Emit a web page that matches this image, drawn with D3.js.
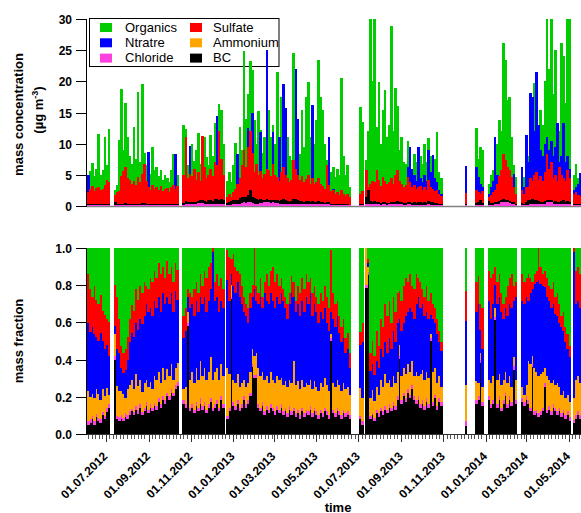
<!DOCTYPE html>
<html><head><meta charset="utf-8">
<script src="https://cdn.jsdelivr.net/npm/d3@7"></script>
<style>
body{margin:0;background:#fff}
svg{display:block}
text{font-family:"Liberation Sans",Arial,Helvetica,sans-serif}
</style>
</head><body>
<svg id="chart" width="581" height="513"></svg>
<script>
// ---------------- DATA ----------------
// 3-day samples starting 2012-06-04 (null = no measurement)
const startDate = "2012-06-04";
const binDays = 3;
const seriesNames = ["Organics", "Ntratre", "Sulfate", "Ammonium", "Chloride", "BC"];
const concTicks = [0, 5, 10, 15, 20, 25, 30];
const fracTicks = [0, 0.2, 0.4, 0.6, 0.8, 1.0];
const dateLabels = ["01.07.2012","01.09.2012","01.11.2012","01.01.2013","01.03.2013","01.05.2013",
  "01.07.2013","01.09.2013","01.11.2013","01.01.2014","01.03.2014","01.05.2014"];

// mass concentration (ug m-3)
const concOrg = [
4.2,5.6,6.9,4.8,6.0,11.5,4.9,5.8,11.0,6.5,12.4,
null,null,
2.6,3.4,10.6,18.7,9.0,16.5,11.0,8.0,6.8,12.7,7.5,18.3,7.0,19.6,8.5,6.5,7.9,5.2,9.5,5.8,6.3,4.8,5.8,4.2,5.0,4.5,3.8,5.8,8.4,4.6,5.0,
null,null,
13.0,12.4,6.5,8.0,10.0,7.2,9.0,11.7,6.8,9.5,11.1,7.9,6.5,11.4,8.0,13.3,10.5,16.3,15.4,10.0,
null,
4.0,5.5,3.8,6.5,10.1,7.4,12.7,9.0,24.8,14.0,18.0,23.2,21.8,13.8,
10.0,15.3,12.2,8.5,11.0,9.5,15.4,11.1,13.0,10.0,
21.5,7.4,17.5,13.0,10.5,11.0,8.0,7.4,24.6,12.0,
12.7,8.4,15.4,9.5,17.5,19.9,11.0,15.4,10.0,13.8,
23.4,17.5,15.4,10.0,7.4,8.0,5.5,6.3,4.7,6.0,
5.0,20.5,8.0,5.0,6.5,3.0,
null,null,null,null,
15.9,13.5,
null,
7.4,12.0,30.0,20.0,30.0,12.7,19.9,10.0,15.4,18.6,
11.0,13.0,28.8,12.0,18.9,16.0,9.0,11.0,7.0,6.8,
10.5,7.5,5.5,8.4,7.0,6.5,8.0,6.8,10.0,7.0,
10.9,8.0,6.5,7.5,11.9,5.5,4.5,
null,null,null,null,null,null,null,null,null,null,null,
4.7,
null,null,null,null,
12.5,7.5,9.5,9.0,
null,null,
3.6,5.0,5.8,7.0,10.0,13.8,12.0,26.1,23.4,17.0,17.5,11.0,6.5,4.7,
null,null,
5.5,4.7,6.0,
8.0,14.3,12.0,19.7,14.0,12.5,15.4,13.0,20.0,30.0,
22.0,30.0,18.0,25.0,13.0,12.0,26.1,24.0,16.5,30.0,
30.0,
null,
5.0,6.8,4.5,3.6
];
const concNO3 = [
5.0,1.2,0.8,1.0,0.9,1.1,0.7,0.8,1.0,0.6,0.8,
null,null,
0.5,0.6,0.8,1.0,1.2,1.5,1.0,1.4,1.6,1.2,0.9,1.1,1.3,1.6,1.2,1.8,8.7,1.0,1.2,0.9,1.0,0.8,1.1,0.7,0.9,1.0,0.8,1.1,1.3,8.4,1.5,
null,null,
1.0,1.5,2.0,9.6,2.2,1.8,2.5,3.0,2.2,3.5,2.6,2.0,3.2,3.6,4.0,5.0,14.5,4.5,6.0,3.5,
null,
1.2,1.5,1.0,2.0,2.5,8.4,4.0,5.5,7.0,5.0,12.5,9.0,14.9,5.0,
4.5,4.0,11.8,4.0,4.5,25.1,5.0,4.0,11.8,4.5,
4.0,11.1,5.0,19.6,15.8,4.0,3.5,4.0,6.0,21.9,
13.9,4.0,4.5,3.5,4.0,4.5,3.0,16.2,3.0,3.5,
4.0,3.0,2.5,2.5,4.0,11.1,2.0,2.8,1.6,2.0,
1.5,2.2,1.8,1.2,1.2,0.8,
null,null,null,null,
1.0,1.2,
null,
2.6,1.5,2.0,1.8,2.2,1.5,1.4,1.0,1.2,1.3,
1.1,1.5,1.8,2.0,2.4,2.6,3.0,3.5,2.8,3.2,
6.3,9.5,6.0,5.0,4.0,9.5,4.5,3.8,5.0,4.0,
9.0,5.5,8.2,4.5,3.8,2.5,2.0,
null,null,null,null,null,null,null,null,null,null,null,
6.4,
null,null,null,null,
6.3,4.7,3.5,3.0,
null,null,
2.0,3.0,4.0,11.1,5.0,4.5,4.0,5.5,5.0,4.8,4.0,3.5,5.2,2.0,
null,null,
6.3,3.0,11.4,
7.0,18.1,17.5,12.0,21.5,13.0,9.0,8.0,10.0,11.0,
9.0,10.5,8.0,9.5,13.3,7.0,8.0,13.3,7.0,8.0,
6.0,
null,
2.5,3.0,3.6,5.3
];
const concSO4 = [
2.2,2.8,3.2,2.4,2.9,3.0,2.6,2.8,3.4,4.1,3.8,
null,null,
1.8,2.2,2.4,4.8,5.6,6.3,4.5,4.2,3.6,4.0,3.3,4.6,3.8,5.2,6.8,4.0,3.0,2.6,3.4,2.8,3.0,2.5,3.2,2.4,2.7,2.9,2.2,3.0,3.4,2.8,3.2,
null,null,
5.0,11.1,4.5,5.2,4.8,6.0,4.2,5.5,4.0,11.3,6.2,4.5,5.0,6.0,4.8,7.0,6.5,12.0,7.5,5.0,
null,
1.5,2.0,1.4,2.2,2.8,3.5,4.5,6.5,9.0,6.3,9.5,12.0,8.5,5.5,
6.8,5.0,5.6,4.5,5.2,6.0,5.8,4.8,6.8,5.0,
4.6,4.0,5.5,6.2,5.0,4.5,3.8,4.2,7.3,6.0,
5.0,4.2,4.8,3.8,4.4,5.0,3.6,4.5,3.5,3.8,
4.5,3.6,3.2,2.8,6.5,3.4,2.4,2.6,2.0,2.2,
1.8,2.5,2.0,1.6,2.0,1.5,
null,null,null,null,
2.0,2.4,
null,
5.7,3.0,3.5,4.0,3.8,5.8,4.2,3.2,4.7,4.0,
3.5,3.8,4.5,3.6,5.0,5.8,4.0,3.5,3.0,3.3,
4.7,3.8,3.0,3.4,2.8,3.0,3.2,2.6,3.0,2.5,
4.2,3.0,2.8,2.4,2.6,2.0,1.6,
null,null,null,null,null,null,null,null,null,null,null,
2.1,
null,null,null,null,
2.6,2.2,2.0,2.4,
null,null,
1.5,1.8,2.2,2.5,3.5,4.8,5.8,8.4,7.4,6.3,5.8,4.7,3.0,2.0,
null,null,
2.5,2.0,3.0,
3.0,4.5,4.0,5.0,5.5,4.2,4.8,4.0,5.5,8.4,
6.0,7.0,4.5,5.0,4.0,6.3,5.0,4.5,4.0,5.8,
4.5,
null,
2.0,2.3,1.8,1.6
];
const concNH4 = [
1.0,1.2,1.4,1.1,1.3,1.4,1.2,1.3,1.5,1.8,1.7,
null,null,
0.8,1.0,1.1,2.0,2.2,2.5,1.9,1.8,1.6,1.7,1.5,1.9,1.6,2.2,2.6,1.8,1.5,1.2,1.5,1.3,1.3,1.1,1.4,1.0,1.2,1.2,1.0,1.3,1.5,1.2,1.4,
null,null,
2.2,4.2,2.0,2.6,2.1,2.5,2.0,2.4,1.9,4.3,2.6,2.0,2.2,2.5,2.2,3.0,3.0,4.5,3.2,2.3,
null,
1.0,1.3,0.9,1.6,2.0,2.2,2.8,3.5,3.9,3.0,3.6,3.9,3.4,2.6,
3.0,2.8,3.2,2.5,2.8,3.5,3.2,2.6,3.2,3.0,
2.7,2.3,3.0,3.6,3.2,2.6,2.2,2.5,3.5,3.6,
3.0,2.5,2.6,2.2,2.5,2.6,2.0,2.8,2.0,2.2,
2.5,2.1,1.9,1.7,2.6,2.2,1.4,1.5,1.2,1.3,
1.1,1.4,1.2,0.9,1.0,0.8,
null,null,null,null,
1.0,1.1,
null,
3.8,1.6,1.8,2.0,1.9,2.5,2.0,1.6,2.1,1.9,
1.7,1.8,2.1,1.8,2.3,2.6,2.0,1.9,1.7,1.8,
2.5,2.4,1.9,2.0,1.7,2.0,1.9,1.6,1.8,1.5,
2.4,1.8,1.8,1.5,1.5,1.2,1.0,
null,null,null,null,null,null,null,null,null,null,null,
1.3,
null,null,null,null,
1.5,1.3,1.2,1.3,
null,null,
0.9,1.1,1.3,1.6,1.9,2.3,2.5,3.2,3.0,2.8,2.5,2.2,1.7,1.1,
null,null,
1.5,1.2,2.0,
2.2,3.5,3.2,3.0,3.8,3.0,2.8,2.5,3.0,3.6,
3.0,3.3,2.6,2.8,3.0,2.8,2.6,2.8,2.3,2.6,
2.3,
null,
1.2,1.4,1.2,1.1
];
const concBC = [
0.3,0.3,0.4,0.3,0.3,0.4,0.3,0.3,0.4,0.4,0.4,
null,null,
0.6,0.3,0.3,0.4,0.4,0.5,0.4,0.4,0.3,0.4,0.3,0.4,0.4,0.5,0.5,0.4,0.3,0.3,0.3,0.3,0.3,0.3,0.3,0.3,0.3,0.3,0.3,0.3,0.4,0.3,0.4,
null,null,
0.5,0.8,0.6,0.7,0.6,0.6,0.7,0.8,0.9,1.0,0.8,0.7,0.9,1.0,0.8,1.1,1.2,1.0,1.1,0.9,
null,
0.5,0.7,0.8,0.9,1.0,1.0,1.3,1.5,1.5,1.4,1.8,2.5,1.4,1.3,
1.2,1.0,1.1,0.9,1.0,1.1,1.0,0.9,1.0,0.9,
1.0,0.8,1.0,1.1,0.9,0.8,0.7,0.8,1.2,1.1,
0.9,0.8,0.8,0.7,0.8,0.8,0.7,0.8,0.6,0.7,
0.8,0.6,0.6,0.5,0.6,0.6,0.4,0.4,0.4,0.4,
0.3,0.4,0.3,0.3,0.3,0.2,
null,null,null,null,
0.3,0.3,
null,
1.5,2.5,0.8,0.7,0.8,0.7,0.6,0.5,0.6,0.6,
0.5,0.5,0.7,0.6,0.7,0.8,0.6,0.6,0.5,0.5,
0.7,0.6,0.5,0.6,0.5,0.6,0.6,0.5,0.6,0.5,
0.8,0.6,0.6,0.5,0.5,0.4,0.3,
null,null,null,null,null,null,null,null,null,null,null,
0.3,
null,null,null,null,
0.5,0.6,0.9,0.5,
null,null,
0.8,0.5,0.5,0.6,0.7,0.8,0.9,1.1,1.0,0.9,0.8,0.7,0.6,0.4,
null,null,
0.5,0.4,0.6,
1.0,1.0,1.1,1.0,0.9,0.8,0.7,0.6,0.8,1.0,
0.9,1.0,0.7,0.8,0.7,0.6,0.8,1.0,0.7,0.8,
0.7,
null,
0.4,0.4,0.3,0.3
];
const concChl = [
0.2,0.2,0.2,0.2,0.2,0.2,0.2,0.2,0.2,0.2,0.2,
null,null,
0.1,0.1,0.2,0.2,0.2,0.2,0.2,0.2,0.2,0.2,0.2,0.2,0.2,0.2,0.2,0.2,0.2,0.2,0.2,0.2,0.2,0.2,0.2,0.2,0.2,0.2,0.2,0.2,0.2,0.2,0.2,
null,null,
0.2,0.3,0.3,0.3,0.3,0.3,0.4,0.5,0.5,0.5,0.4,0.4,0.4,0.4,0.3,0.4,0.4,0.4,0.4,0.3,
null,
0.2,0.2,0.2,0.3,0.3,0.4,0.4,0.5,0.6,0.5,0.6,0.6,0.5,0.4,
0.4,0.4,0.5,0.5,0.6,0.7,0.6,0.5,0.6,0.5,
0.5,0.4,0.4,0.4,0.3,0.3,0.3,0.3,0.3,0.3,
0.4,0.4,0.4,0.3,0.3,0.3,0.3,0.3,0.3,0.3,
0.3,0.3,0.3,0.3,0.3,0.3,0.2,0.2,0.2,0.2,
0.2,0.2,0.2,0.2,0.2,0.1,
null,null,null,null,
0.2,0.2,
null,
0.3,0.3,0.3,0.3,0.3,0.3,0.3,0.2,0.3,0.3,
0.2,0.3,0.3,0.3,0.3,0.3,0.3,0.3,0.2,0.2,
0.3,0.3,0.2,0.2,0.2,0.2,0.2,0.2,0.2,0.2,
0.3,0.2,0.2,0.2,0.2,0.2,0.1,
null,null,null,null,null,null,null,null,null,null,null,
0.2,
null,null,null,null,
0.2,0.2,0.2,0.2,
null,null,
0.2,0.2,0.2,0.3,0.3,0.4,0.6,0.7,0.7,0.6,0.5,0.4,0.3,0.2,
null,null,
0.2,0.2,0.2,
0.2,0.3,0.3,0.3,0.3,0.3,0.3,0.3,0.4,0.6,
0.6,0.6,0.4,0.3,0.3,0.3,0.3,0.3,0.3,0.3,
0.3,
null,
0.2,0.2,0.2,0.2
];

// mass fraction
const fracBC = [
.05,.06,.08,.05,.09,.07,.06,.10,.08,.12,.14,
null,null,
.40,.08,.07,.08,.07,.09,.08,.10,.12,.10,.13,.11,.14,.10,.12,.15,.11,.14,.12,.15,.13,.17,.14,.18,.16,.20,.18,.22,.20,.24,.26,
null,null,
.16,.14,.58,.12,.14,.11,.15,.12,.16,.13,.15,.11,.14,.17,.12,.14,.16,.12,.18,.14,
null,
.08,.12,.72,.15,.13,.16,.12,.14,.18,.14,.16,.20,.36,.30,
.30,.14,.12,.15,.10,.13,.11,.14,.12,.10,
.13,.11,.14,.10,.12,.09,.13,.10,.12,.09,
.11,.08,.12,.09,.11,.10,.13,.09,.12,.10,
.08,.11,.09,.12,.10,.08,.50,.11,.09,.12,
.10,.08,.11,.09,.10,.08,
null,null,null,null,
.08,.05,
null,
.78,.85,.08,.10,.07,.11,.09,.12,.10,.13,
.11,.14,.12,.15,.13,.18,.40,.16,.20,.17,
.22,.19,.24,.18,.16,.18,.14,.16,.13,.17,
.14,.50,.15,.19,.13,.17,.15,
null,null,null,null,null,null,null,null,null,null,null,
.04,
null,null,null,null,
.16,.18,.38,.15,
null,null,
.18,.14,.16,.61,.14,.18,.12,.16,.20,.14,.18,.15,.34,.16,
null,null,
.17,.15,.18,
.16,.12,.36,.10,.11,.09,.10,.12,.25,.11,
.13,.10,.14,.12,.10,.12,.09,.11,.08,.10,
.07,
null,
.06,.08,.10,.08
];
const fracChl = [
.02,.02,.015,.02,.02,.015,.02,.02,.015,.02,.02,
null,null,
.02,.015,.02,.02,.015,.02,.02,.02,.015,.02,.02,.02,.02,.015,.02,.02,.02,.02,.02,.015,.02,.02,.02,.02,.02,.015,.02,.02,.02,.02,.02,
null,null,
.02,.02,.015,.02,.02,.02,.02,.02,.03,.02,.02,.02,.02,.02,.02,.02,.02,.02,.02,.02,
null,
.015,.02,.015,.02,.02,.02,.02,.02,.02,.02,.02,.02,.015,.015,
.02,.02,.02,.02,.02,.02,.02,.02,.02,.02,
.02,.02,.02,.02,.02,.02,.02,.02,.02,.02,
.02,.02,.02,.02,.02,.02,.02,.02,.02,.02,
.02,.02,.02,.02,.02,.02,.015,.02,.02,.02,
.02,.02,.02,.02,.02,.02,
null,null,null,null,
.015,.02,
null,
.015,.015,.015,.015,.015,.02,.02,.02,.02,.02,
.02,.02,.02,.02,.02,.02,.015,.02,.02,.02,
.02,.02,.02,.02,.02,.02,.02,.02,.02,.02,
.02,.015,.02,.02,.02,.02,.02,
null,null,null,null,null,null,null,null,null,null,null,
.03,
null,null,null,null,
.02,.02,.015,.02,
null,null,
.02,.02,.02,.015,.02,.02,.02,.02,.02,.02,.02,.02,.02,.02,
null,null,
.02,.02,.02,
.02,.02,.015,.02,.02,.02,.02,.02,.02,.02,
.02,.02,.02,.02,.02,.02,.02,.02,.02,.02,
.02,
null,
.015,.02,.02,.02
];
const fracNH4 = [
.16,.12,.12,.12,.13,.13,.10,.12,.11,.11,.05,
null,null,
.12,.16,.14,.13,.13,.08,.14,.14,.15,.12,.17,.13,.13,.11,.13,.12,.12,.12,.10,.14,.14,.14,.11,.15,.11,.13,.11,.13,.07,.09,.10,
null,null,
.06,.09,.06,.15,.17,.14,.18,.15,.20,.16,.18,.16,.17,.22,.15,.17,.17,.15,.17,.15,
null,
.26,.18,.06,.12,.12,.14,.11,.11,.09,.09,.09,.11,.08,.10,
.11,.19,.17,.16,.17,.16,.14,.17,.15,.15,
.16,.16,.14,.14,.14,.14,.14,.15,.25,.15,
.15,.14,.15,.14,.14,.14,.14,.13,.14,.13,
.13,.14,.14,.16,.14,.13,.02,.14,.14,.15,
.14,.13,.14,.13,.13,.11,
null,null,null,null,
.15,.12,
null,
.20,.03,.10,.12,.09,.12,.10,.15,.13,.17,
.14,.13,.11,.14,.12,.13,.06,.13,.13,.13,
.13,.12,.13,.11,.15,.11,.16,.16,.14,.14,
.14,.02,.16,.14,.12,.12,.08,
null,null,null,null,null,null,null,null,null,null,null,
.19,
null,null,null,null,
.10,.07,.04,.08,
null,null,
.09,.11,.13,.05,.13,.12,.12,.11,.11,.11,.11,.08,.05,.11,
null,null,
.06,.04,.06,
.21,.23,.04,.23,.20,.20,.20,.19,.08,.18,
.14,.15,.13,.12,.15,.11,.10,.10,.09,.09,
.08,
null,
.12,.19,.19,.17
];
const fracNO3 = [
.36,.35,.36,.34,.28,.28,.36,.26,.25,.23,.21,
null,null,
.04,.20,.20,.12,.11,.15,.16,.23,.25,.28,.27,.30,.32,.36,.36,.40,.40,.40,.39,.40,.38,.40,.38,.40,.40,.38,.38,.38,.36,.41,.34,
null,null,
.27,.30,.08,.38,.36,.36,.36,.36,.34,.38,.38,.36,.38,.36,.68,.38,.38,.36,.34,.36,
null,
.47,.39,.06,.50,.48,.49,.48,.42,.36,.38,.32,.34,.28,.36,
.28,.34,.42,.34,.46,.40,.42,.42,.42,.40,
.42,.40,.45,.45,.39,.36,.40,.48,.34,.39,
.41,.39,.42,.40,.46,.43,.46,.39,.41,.40,
.36,.38,.36,.37,.33,.32,.12,.34,.32,.34,
.28,.26,.24,.19,.20,.14,
null,null,null,null,
.23,.30,
null,
.00,.02,.14,.14,.14,.14,.14,.16,.16,.17,
.16,.22,.20,.24,.22,.26,.14,.24,.24,.31,
.28,.34,.26,.30,.36,.42,.35,.35,.34,.32,
.31,.10,.28,.24,.26,.18,.19,
null,null,null,null,null,null,null,null,null,null,null,
.34,
null,null,null,null,
.37,.42,.12,.20,
null,null,
.42,.34,.38,.12,.40,.41,.39,.32,.34,.36,.38,.42,.30,.44,
null,null,
.46,.48,.47,
.32,.38,.36,.45,.48,.51,.48,.46,.43,.42,
.42,.40,.40,.38,.36,.34,.36,.32,.30,.24,
.24,
null,
.78,.40,.40,.40
];
const fracSO4 = [
.26,.23,.16,.26,.20,.20,.20,.16,.18,.14,.18,
null,null,
.22,.28,.18,.12,.11,.11,.12,.12,.15,.14,.18,.16,.18,.16,.18,.10,.12,.16,.18,.16,.16,.18,.20,.14,.14,.19,.16,.14,.16,.15,.16,
null,null,
.12,.12,.04,.08,.04,.14,.10,.10,.12,.10,.14,.18,.18,.14,.02,.10,.12,.14,.12,.10,
null,
.16,.23,.08,.17,.14,.06,.12,.10,.08,.06,.08,.08,.06,.22,
.08,.06,.10,.06,.06,.14,.10,.12,.18,.14,
.12,.10,.08,.06,.06,.08,.06,.09,.08,.06,
.10,.12,.12,.12,.12,.12,.08,.12,.10,.08,
.10,.10,.10,.12,.14,.12,.33,.14,.12,.08,
.09,.08,.10,.08,.09,.08,
null,null,null,null,
.07,.10,
null,
.00,.02,.10,.12,.10,.16,.12,.16,.16,.20,
.20,.20,.14,.18,.16,.16,.15,.16,.20,.20,
.16,.18,.14,.16,.16,.10,.14,.08,.10,.14,
.10,.12,.08,.08,.08,.06,.05,
null,null,null,null,null,null,null,null,null,null,null,
.16,
null,null,null,null,
.16,.15,.14,.22,
null,null,
.16,.22,.16,.10,.12,.12,.10,.08,.06,.16,.14,.18,.08,.08,
null,null,
.14,.12,.10,
.14,.08,.04,.05,.06,.17,.09,.06,.09,.10,
.08,.10,.12,.09,.12,.10,.06,.10,.08,.08,
.06,
null,
.02,.18,.18,.18
];
const fracOrg = [
.14,.22,.26,.20,.28,.30,.25,.34,.36,.38,.40,
null,null,
.20,.26,.38,.52,.56,.54,.48,.38,.30,.34,.22,.28,.20,.24,.18,.20,.22,.16,.18,.12,.16,.08,.14,.10,.16,.07,.14,.10,.18,.08,.12,
null,null,
.36,.32,.22,.24,.26,.22,.18,.24,.14,.20,.12,.16,.10,.08,.00,.18,.14,.20,.16,.22,
null,
.01,.05,.06,.03,.10,.12,.14,.20,.26,.30,.32,.24,.20,.00,
.20,.24,.16,.26,.18,.14,.20,.12,.10,.18,
.14,.20,.16,.22,.26,.30,.24,.15,.18,.28,
.20,.24,.16,.22,.14,.18,.16,.24,.20,.26,
.30,.24,.28,.20,.26,.32,.01,.24,.30,.28,
.36,.42,.38,.48,.45,.56,
null,null,null,null,
.45,.40,
null,
.00,.06,.56,.50,.58,.44,.52,.38,.42,.30,
.36,.28,.40,.26,.34,.24,.23,.28,.20,.16,
.18,.14,.20,.22,.14,.16,.18,.22,.26,.20,
.28,.24,.30,.32,.38,.44,.50,
null,null,null,null,null,null,null,null,null,null,null,
.23,
null,null,null,null,
.18,.15,.30,.32,
null,null,
.12,.16,.14,.10,.18,.14,.24,.30,.26,.20,.16,.14,.20,.18,
null,null,
.14,.18,.16,
.14,.16,.18,.14,.12,.00,.10,.14,.12,.16,
.20,.22,.18,.26,.24,.30,.36,.34,.42,.46,
.52,
null,
.00,.12,.10,.14
];

// ---------------- STYLE ----------------
const colors = {org:"#00cc00", no3:"#0000ff", so4:"#ff0000", nh4:"#ffa500", chl:"#ff40e0", bc:"#000000"};

// ---------------- DRAW ----------------
const svg = d3.select("#chart");
const X0 = 87, X1 = 581;
const parseISO = d3.utcParse("%Y-%m-%d");
const parseLbl = d3.utcParse("%d.%m.%Y");
const start = parseISO(startDate);
const nBins = concOrg.length;
const binStart = d3.range(nBins + 1).map(i => d3.utcDay.offset(start, i * binDays));
const x = d3.scaleUtc().domain([binStart[0], binStart[nBins]]).range([X0, X1]);
const yC = d3.scaleLinear().domain([0, 30]).range([206, 19]);
const yF = d3.scaleLinear().domain([0, 1]).range([434, 248]);
const bx = i => x(binStart[i]);
const bw = i => x(binStart[i + 1]) - x(binStart[i]) + 0.6;

const bold = "bold";

// legend (under data)
const lg = svg.append("g");
lg.append("rect").attr("x", 89.5).attr("y", 18.5).attr("width", 189.5).attr("height", 48)
  .attr("fill", "#fff").attr("stroke", "#000").attr("stroke-width", 1);
const legendItems = [
  {name: seriesNames[0], c: colors.org, col: 0, row: 0},
  {name: seriesNames[2], c: colors.so4, col: 1, row: 0},
  {name: seriesNames[1], c: colors.no3, col: 0, row: 1},
  {name: seriesNames[3], c: colors.nh4, col: 1, row: 1},
  {name: seriesNames[4], c: colors.chl, col: 0, row: 2},
  {name: seriesNames[5], c: colors.bc, col: 1, row: 2}
];
legendItems.forEach(d => {
  const sx = d.col ? 190 : 100, tx = d.col ? 213 : 125;
  const ry = 23 + d.row * 15.3;
  lg.append("rect").attr("x", sx).attr("y", ry).attr("width", 12).attr("height", 9).attr("fill", d.c);
  lg.append("text").attr("x", tx).attr("y", ry + 8.6).attr("font-size", 13).text(d.name);
});

// top baseline
svg.append("line").attr("x1", X0).attr("x2", X1).attr("y1", yC(0) + 0.5).attr("y2", yC(0) + 0.5)
  .attr("stroke", "#808080").attr("stroke-width", 1.6);

// top panel: overlaid species
const topLayers = [
  {v: concOrg, c: colors.org}, {v: concNO3, c: colors.no3}, {v: concNH4, c: colors.nh4},
  {v: concSO4, c: colors.so4}, {v: concBC, c: colors.bc}, {v: concChl, c: colors.chl}
];
topLayers.forEach(L => {
  const idx = d3.range(nBins).filter(i => L.v[i] != null);
  svg.append("g").attr("shape-rendering", "crispEdges").selectAll("rect").data(idx).join("rect")
    .attr("x", i => bx(i)).attr("width", i => bw(i))
    .attr("y", i => yC(Math.min(L.v[i], 30)))
    .attr("height", i => yC(0) - yC(Math.min(L.v[i], 30)))
    .attr("fill", L.c);
});

// bottom panel: stacked fractions
const rows = d3.range(nBins).filter(i => fracOrg[i] != null).map(i => ({
  i, bc: fracBC[i], chl: fracChl[i], nh4: fracNH4[i], no3: fracNO3[i], so4: fracSO4[i], org: fracOrg[i]
}));
const keys = ["bc", "chl", "nh4", "no3", "so4", "org"];
const stacked = d3.stack().keys(keys).offset(d3.stackOffsetExpand)(rows);
stacked.forEach(s => {
  svg.append("g").attr("shape-rendering", "crispEdges").selectAll("rect").data(s).join("rect")
    .attr("x", d => bx(d.data.i)).attr("width", d => bw(d.data.i))
    .attr("y", d => yF(d[1])).attr("height", d => Math.max(0, yF(d[0]) - yF(d[1])))
    .attr("fill", colors[s.key]);
});

// y axes
function yAxis(scale, ticks, fmt, y0, y1) {
  const g = svg.append("g");
  g.append("line").attr("x1", X0 - 0.5).attr("x2", X0 - 0.5).attr("y1", y1).attr("y2", y0 + 0.5)
    .attr("stroke", "#000").attr("stroke-width", 1);
  ticks.forEach(t => {
    const yy = Math.round(scale(t)) + 0.5;
    g.append("line").attr("x1", 76).attr("x2", X0).attr("y1", yy).attr("y2", yy)
      .attr("stroke", "#000").attr("stroke-width", 1);
    g.append("text").attr("x", 72).attr("y", yy).attr("dy", "0.36em").attr("text-anchor", "end")
      .attr("font-size", 12).attr("font-weight", bold).text(fmt(t));
  });
}
yAxis(yC, concTicks, d3.format("d"), 206, 19);
yAxis(yF, fracTicks, d3.format(".1f"), 434, 248);

// x axis
const xg = svg.append("g");
xg.append("line").attr("x1", X0).attr("x2", X1).attr("y1", 434.5).attr("y2", 434.5)
  .attr("stroke", "#333").attr("stroke-width", 1);
const minorDays = d3.utcDay.range(binStart[0], binStart[nBins]).filter(d => [1, 6, 11, 16, 21, 26].includes(d.getUTCDate()));
const majorDates = dateLabels.map(parseLbl);
const majorSet = new Set(majorDates.map(d => +d));
xg.selectAll("line.minor").data(minorDays.filter(d => !majorSet.has(+d))).join("line")
  .attr("x1", d => Math.round(x(d)) + 0.5).attr("x2", d => Math.round(x(d)) + 0.5)
  .attr("y1", 435).attr("y2", 439).attr("stroke", "#555").attr("stroke-width", 1);
xg.selectAll("line.major").data(majorDates).join("line")
  .attr("x1", d => Math.round(x(d)) + 0.5).attr("x2", d => Math.round(x(d)) + 0.5)
  .attr("y1", 435).attr("y2", 442).attr("stroke", "#333").attr("stroke-width", 1);
xg.selectAll("text").data(dateLabels).join("text")
  .attr("transform", d => `translate(${x(parseLbl(d)) + 2.5},457) rotate(-45)`)
  .attr("text-anchor", "end").attr("font-size", 12).attr("font-weight", bold).text(d => d);

// titles
svg.append("text").attr("transform", "translate(23,114.5) rotate(-90)").attr("text-anchor", "middle")
  .attr("font-size", 13).attr("font-weight", bold).text("mass concentration");
const t2 = svg.append("text").attr("transform", "translate(42.5,110) rotate(-90)").attr("text-anchor", "middle")
  .attr("font-size", 13).attr("font-weight", bold);
t2.append("tspan").text("(µg m");
t2.append("tspan").attr("dy", -5).attr("font-size", 9).text("-3");
t2.append("tspan").attr("dy", 5).text(")");
svg.append("text").attr("transform", "translate(22.5,341) rotate(-90)").attr("text-anchor", "middle")
  .attr("font-size", 13).attr("font-weight", bold).text("mass fraction");
svg.append("text").attr("x", 338).attr("y", 511.5).attr("text-anchor", "middle")
  .attr("font-size", 13).attr("font-weight", bold).text("time");
</script>
</body></html>
